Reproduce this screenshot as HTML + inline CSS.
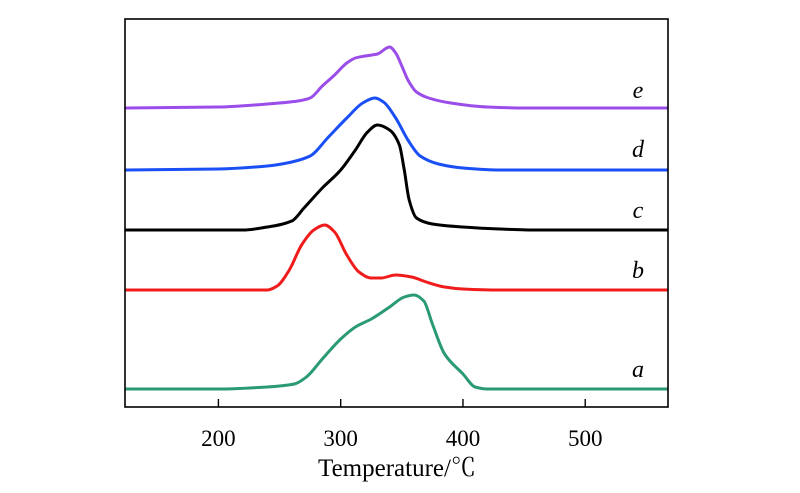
<!DOCTYPE html>
<html><head><meta charset="utf-8"><style>
html,body{margin:0;padding:0;background:#fff;}
svg{display:block;font-family:"Liberation Serif","Noto Serif CJK SC",serif;}
</style></head><body>
<svg id="chart" width="800" height="493" viewBox="0 0 800 493">
<defs><clipPath id="clip"><rect x="125" y="19" width="543" height="388"/></clipPath></defs>
<g id="ticks"></g><g id="series" clip-path="url(#clip)"></g><g id="labels"></g>
<rect x="125" y="19" width="543" height="388" fill="none" stroke="#000" stroke-width="1.6"/>
<text x="397" y="476" text-anchor="middle" font-size="25">Temperature/℃</text>
</svg>
<script>
const xTicks = [200, 300, 400, 500];
const seriesNames = ['a','b','c','d','e'];
const seriesColors = ['#2a9a74','#f01c1c','#000000','#1a4ff5','#9b4dea'];
const baselines = [389, 290, 230, 170, 108];
const labelY = [377, 278, 218, 157, 98];
const aTemp = [121,200,240,262,272,285,300,312,325,340,352,360,368,375,385,400,410,420,568];
const aVal  = [0,0,2,5,12,30,50,62,70,82,92,94,88,65,35,15,2,0,0];
const bTemp = [121,240,248,258,268,278,287,295,305,315,325,333,345,358,370,385,400,430,568];
const bVal  = [0,0,4,20,45,60,65,58,35,18,12,12,15,13,8,3,1,0,0];
const cTemp = [121,220,240,260,270,285,300,312,322,330,340,348,352,356,362,375,400,430,460,568];
const cVal  = [0,0,3,9,22,42,60,80,98,105,100,85,60,30,12,6,3,1,0,0];
const dTemp = [121,200,240,260,275,290,305,318,328,335,345,355,365,380,400,430,568];
const dVal  = [0,1,4,8,14,33,52,67,72,68,52,30,14,6,2,0,0];
const eTemp = [121,200,240,265,275,285,295,305,312,320,330,340,345,350,355,362,372,390,420,450,568];
const eVal  = [0,1,4,7,10,22,33,45,50,52,54,61,55,42,28,16,10,5,1,0,0];
const temps = [aTemp,bTemp,cTemp,dTemp,eTemp];
const vals = [aVal,bVal,cVal,dVal,eVal];
const xMin = 123.6, xMax = 567.7, pxL = 125, pxR = 668;
function xs(v){return pxL + (v - xMin) / (xMax - xMin) * (pxR - pxL);}
function ys(v, i){return baselines[i] - v;}
function monoPath(pts){
  const n = pts.length, m = [], t = [];
  for (let k = 0; k < n-1; k++) m.push((pts[k+1][1]-pts[k][1])/(pts[k+1][0]-pts[k][0]));
  for (let k = 0; k < n; k++) {
    if (k === 0) t.push(m[0]);
    else if (k === n-1) t.push(m[n-2]);
    else if (m[k-1]*m[k] <= 0) t.push(0);
    else {
      const h0 = pts[k][0]-pts[k-1][0], h1 = pts[k+1][0]-pts[k][0];
      t.push(3*(h0+h1)/((2*h1+h0)/m[k-1] + (h1+2*h0)/m[k]));
    }
  }
  let d = 'M' + pts[0][0].toFixed(1) + ',' + pts[0][1].toFixed(1);
  for (let k = 0; k < n-1; k++) {
    const dx = (pts[k+1][0]-pts[k][0])/3;
    d += 'C' + (pts[k][0]+dx).toFixed(1) + ',' + (pts[k][1]+t[k]*dx).toFixed(1) + ' ' +
         (pts[k+1][0]-dx).toFixed(1) + ',' + (pts[k+1][1]-t[k+1]*dx).toFixed(1) + ' ' +
         pts[k+1][0].toFixed(1) + ',' + pts[k+1][1].toFixed(1);
  }
  return d;
}
const NS = 'http://www.w3.org/2000/svg';
const tg = document.getElementById('ticks');
xTicks.forEach(t => {
  const l = document.createElementNS(NS,'line');
  l.setAttribute('x1', xs(t)); l.setAttribute('x2', xs(t));
  l.setAttribute('y1', 407); l.setAttribute('y2', 399);
  l.setAttribute('stroke', '#000'); l.setAttribute('stroke-width', '1.4');
  
  
  tg.appendChild(l);
  const tx = document.createElementNS(NS,'text');
  tx.setAttribute('x', xs(t)); tx.setAttribute('y', 446);
  tx.setAttribute('text-anchor', 'middle'); tx.setAttribute('font-size', '23');
  tx.textContent = t;
  
  
  tg.appendChild(tx);
});
const sg = document.getElementById('series');
const lg = document.getElementById('labels');
seriesNames.forEach((n, i) => {
  const p = document.createElementNS(NS,'path');
  const pts = temps[i].map((t, k) => [xs(t), ys(vals[i][k], i)]);
  p.setAttribute('d', monoPath(pts));
  p.setAttribute('fill', 'none'); p.setAttribute('stroke', seriesColors[i]);
  p.setAttribute('stroke-width', '3'); p.setAttribute('stroke-linejoin', 'round');
  
  
  sg.appendChild(p);
  const tx = document.createElementNS(NS,'text');
  tx.setAttribute('x', 638); tx.setAttribute('y', labelY[i]);
  tx.setAttribute('text-anchor', 'middle'); tx.setAttribute('font-size', '24');
  tx.setAttribute('font-style', 'italic');
  tx.textContent = n;
  
  
  lg.appendChild(tx);
});
</script>
</body></html>
